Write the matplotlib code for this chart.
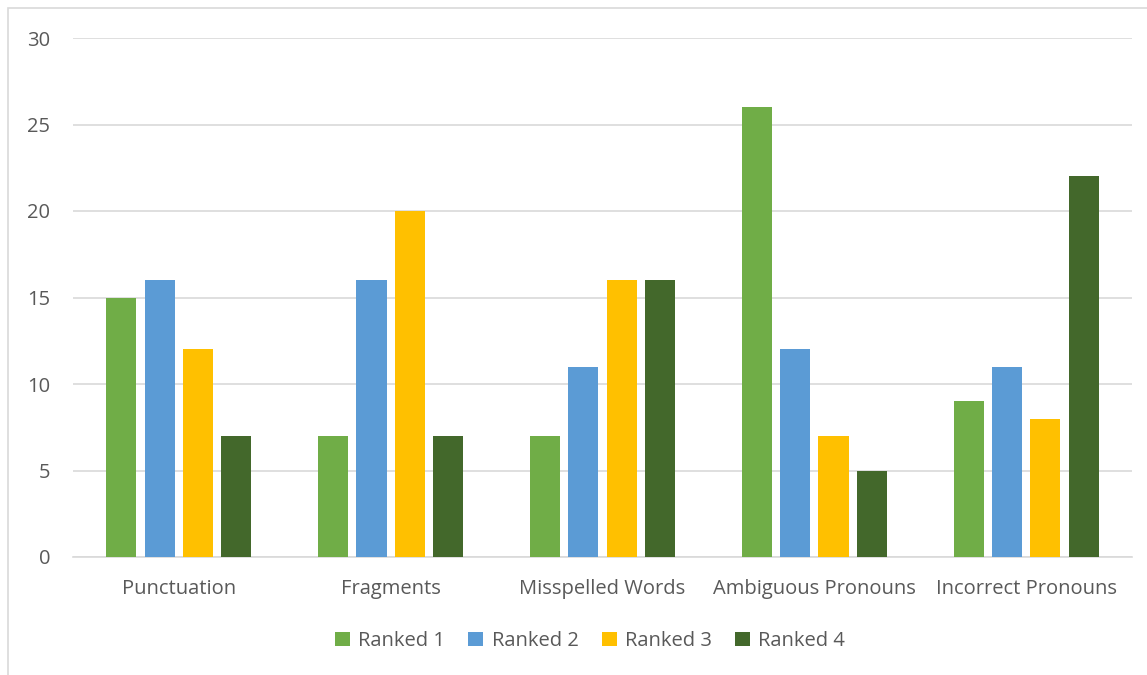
import matplotlib
matplotlib.use("Agg")
import matplotlib.pyplot as plt
from matplotlib.patches import Rectangle
import numpy as np

categories = ["Punctuation", "Fragments", "Misspelled Words", "Ambiguous Pronouns", "Incorrect Pronouns"]
series_names = ["Ranked 1", "Ranked 2", "Ranked 3", "Ranked 4"]
ranked1 = [15, 7, 7, 26, 9]
ranked2 = [16, 16, 11, 12, 11]
ranked3 = [12, 20, 16, 7, 8]
ranked4 = [7, 7, 16, 5, 22]
colors = ["#70AD47", "#5B9BD5", "#FFC000", "#43682B"]

plt.rcParams['font.family'] = ['Open Sans', 'DejaVu Sans']
text_color = "#595959"

W, H = 1147, 675
fig = plt.figure(figsize=(W/100, H/100), dpi=100)
ax = fig.add_axes([73/W, 1-557/H, (1132-73)/W, (557-38)/H])

x = np.arange(len(categories))
bw = 0.142
pitch = 0.181
for i, (vals, name) in enumerate(zip([ranked1, ranked2, ranked3, ranked4], series_names)):
    ax.bar(x + (i-1.5)*pitch, vals, width=bw, color=colors[i], label=name, zorder=3)

ax.set_xlim(-0.5, len(categories)-0.5)
ax.set_ylim(0, 30)
ax.set_yticks(range(0, 31, 5))
ax.yaxis.grid(True, color="#D9D9D9", linewidth=1.2, zorder=0)
ax.set_axisbelow(True)
for s in ["top", "right", "left"]:
    ax.spines[s].set_visible(False)
ax.spines["bottom"].set_color("#D9D9D9")
ax.spines["bottom"].set_linewidth(1.2)
ax.tick_params(axis="both", length=0, labelsize=14.5, colors=text_color)
ax.tick_params(axis="y", pad=16.5)
ax.tick_params(axis="x", pad=16)
ax.set_xticks(x)
ax.set_xticklabels(categories)

leg = fig.legend(loc="center", bbox_to_anchor=(590/W, 1-641/H), ncol=4, frameon=False,
                 fontsize=14.5, handlelength=0.75, handleheight=0.75, handletextpad=0.4,
                 columnspacing=1.15, labelcolor=text_color)

fig.patches.append(Rectangle((8/W, -0.1), 1.2, 1-8/H+0.1, transform=fig.transFigure,
                             fill=False, edgecolor="#D9D9D9", linewidth=1.2))

fig.savefig("out.png", dpi=100)
